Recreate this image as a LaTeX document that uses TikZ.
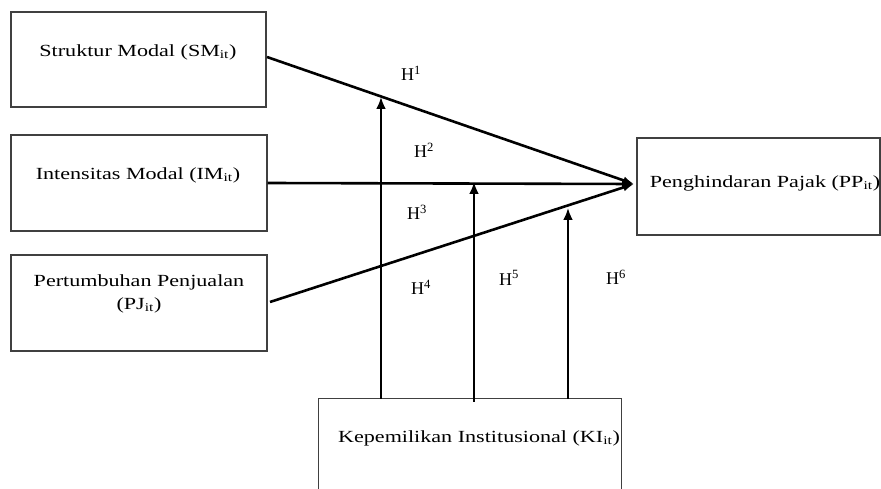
\documentclass[tikz,border=0pt]{standalone}
\usepackage{fontspec}
\setmainfont{Liberation Serif}
\usetikzlibrary{arrows.meta}
\newcommand\wideText[1]{\scalebox{1.3}[1]{#1}}
\tikzset{
  boxnode/.style={draw=black!75, line width=1.1pt, rectangle, inner sep=0pt},
  lbl/.style={inner sep=0pt, font=\fontsize{17}{20}\selectfont},
  hlbl/.style={inner sep=0pt, font=\fontsize{18}{20}\selectfont},
  conn/.style={line width=2.6pt, -{Latex[length=12pt,width=10pt]}},
  plain/.style={line width=2.6pt},
}
\begin{document}
\begin{tikzpicture}[x=1pt,y=-1pt]
\useasboundingbox (0,0) rectangle (881,489);
% boxes
\node[boxnode, minimum width=255pt, minimum height=95pt] (SM) at (138.5,59.5) {};
\node[boxnode, minimum width=256pt, minimum height=96pt] (IM) at (139,183) {};
\node[boxnode, minimum width=256pt, minimum height=96pt] (PJ) at (139,303) {};
\node[boxnode, minimum width=243pt, minimum height=97pt] (PP) at (758.5,186.5) {};
\node[inner sep=0pt, minimum width=302pt, minimum height=91pt] (KI) at (470,444.5) {};
\draw[draw=black!75, line width=1.1pt] (KI.south west) -- (KI.north west) -- (KI.north east) -- (KI.south east);
% texts
\node[lbl] (SMt) at (138,52) {\wideText{Struktur Modal (SM\textsubscript{it})}};
\node[lbl] (IMt) at (138,175) {\wideText{Intensitas Modal (IM\textsubscript{it})}};
\node[lbl, align=center] (PJt) at (139,293.5) {\wideText{Pertumbuhan Penjualan}\\[3pt]\wideText{(PJ\textsubscript{it})}};
\node[lbl] (PPt) at (765,183) {\wideText{Penghindaran Pajak (PP\textsubscript{it})}};
\node[lbl] (KIt) at (479,438) {\wideText{Kepemilikan Institusional (KI\textsubscript{it})}};
% convergence point
\coordinate (tip) at (634,184);
\draw[plain, -{Latex[length=11pt,width=8pt]}] (267,57) coordinate (smo) -- (tip);
\draw[conn] (IM.east) -- (tip);
\draw[plain, -{Latex[length=11pt,width=8pt]}] (270,302) coordinate (pjo) -- (tip);
% moderating arrows
\coordinate (m1) at (381,97);
\coordinate (m2) at (474,182);
\coordinate (m3) at (568,208);
\draw[conn] (m1 |- KI.north) -- (m1);
\draw[conn] ([yshift=-3pt]m2 |- KI.north) -- (m2);
\draw[conn] (m3 |- KI.north) -- (m3);
% hypothesis labels
\node[hlbl] (H1) at (411,73) {H\textsuperscript{1}};
\node[hlbl] (H2) at (424,150) {H\textsuperscript{2}};
\node[hlbl] (H3) at (417,212) {H\textsuperscript{3}};
\node[hlbl] (H4) at (421,287) {H\textsuperscript{4}};
\node[hlbl] (H5) at (509,278) {H\textsuperscript{5}};
\node[hlbl] (H6) at (616,277) {H\textsuperscript{6}};
\end{tikzpicture}
\end{document}
